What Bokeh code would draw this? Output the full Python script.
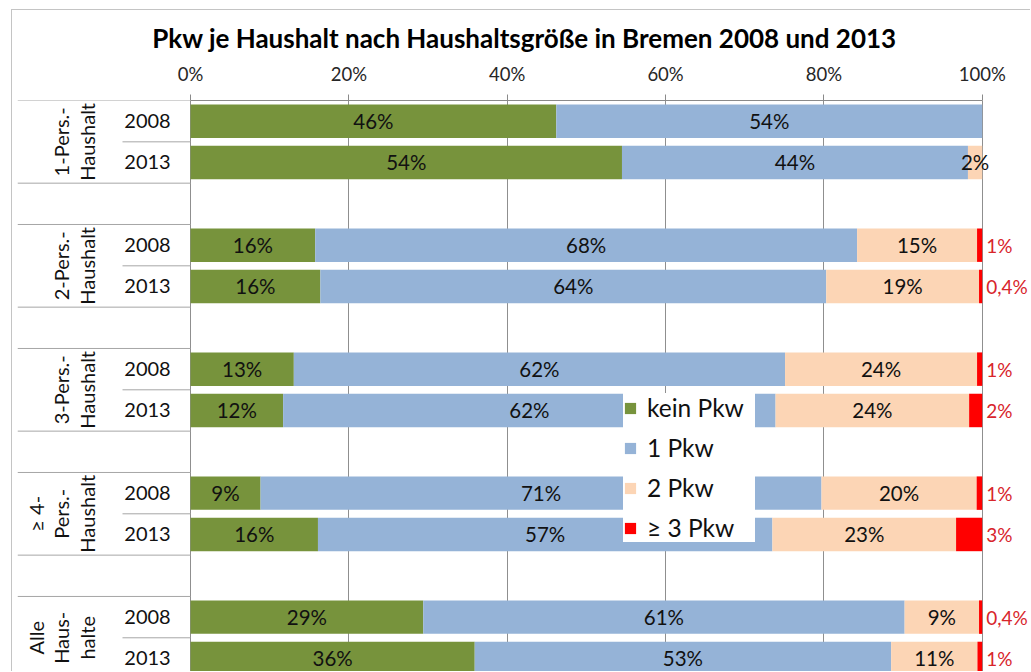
import math
from bokeh.plotting import figure
from bokeh.models import ColumnDataSource, Range1d, FixedTicker
from bokeh.core.properties import value
from bokeh.embed import file_html
from bokeh.resources import INLINE

# ---------------- data ----------------
TITLE = "Pkw je Haushalt nach Haushaltsgröße in Bremen 2008 und 2013"
GROUPS = [["1-Pers.-", "Haushalt"],
          ["2-Pers.-", "Haushalt"],
          ["3-Pers.-", "Haushalt"],
          ["≥ 4-", "Pers.-", "Haushalt"],
          ["Alle", "Haus-", "halte"]]
YEARS = ["2008", "2013"]
SERIES = ["kein Pkw", "1 Pkw", "2 Pkw", "≥ 3 Pkw"]

# one entry per bar: group 1 2008, group 1 2013, group 2 2008, ...
kein_pkw = [46.2, 54.5, 15.75, 16.4, 13.05, 11.7, 8.85, 16.1, 29.4, 35.9]
ein_pkw = [53.8, 43.7, 68.45, 63.9, 62.05, 62.2, 70.85, 57.4, 60.8, 52.6]
zwei_pkw = [0.0, 1.8, 15.15, 19.3, 24.25, 24.45, 19.6, 23.2, 9.4, 10.9]
drei_pkw = [0.0, 0.0, 0.65, 0.4, 0.65, 1.65, 0.7, 3.3, 0.4, 0.6]

kein_lbl = ["46%", "54%", "16%", "16%", "13%", "12%", "9%", "16%", "29%", "36%"]
ein_lbl = ["54%", "44%", "68%", "64%", "62%", "62%", "71%", "57%", "61%", "53%"]
zwei_lbl = ["", "2%", "15%", "19%", "24%", "24%", "20%", "23%", "9%", "11%"]
drei_lbl = ["", "", "1%", "0,4%", "1%", "2%", "1%", "3%", "0,4%", "1%"]

TICKS = [0, 20, 40, 60, 80, 100]
TICK_LABELS = ["0%", "20%", "40%", "60%", "80%", "100%"]

# ---------------- styles / layout ----------------
COLORS = ["#77933C", "#95B3D7", "#FCD5B5", "#FF0000"]
RED_TEXT = "#d8252b"
TXT = "#111111"
FONT = "Lato"

PX_PER_PCT = 7.917          # horizontal scale
SLOT_PX = 41.33             # height of one category slot
FIG_W, FIG_H = 1019, 662
MIN_LEFT, MIN_TOP = 5, 90
ZERO_PX = 178               # 0% position measured from canvas left
X_START = (MIN_LEFT - ZERO_PX) / PX_PER_PCT
X_END = (FIG_W - ZERO_PX) / PX_PER_PCT
Y_BOTTOM = (FIG_H - MIN_TOP) / SLOT_PX

def px_to_pct(px_from_zero):
    return px_from_zero / PX_PER_PCT

p = figure(width=FIG_W, height=FIG_H,
           x_range=Range1d(X_START, X_END), y_range=Range1d(Y_BOTTOM, 0),
           output_backend="svg", toolbar_location=None,
           x_axis_location="above", y_axis_location=None,
           min_border_left=MIN_LEFT, min_border_right=0,
           min_border_top=MIN_TOP, min_border_bottom=0,
           title=TITLE)
p.outline_line_color = None
p.background_fill_color = "white"
p.border_fill_color = "white"
p.styles = {"border-top": "1px solid #c4c4c4", "border-left": "1px solid #c4c4c4",
            "margin-left": "11px", "margin-top": "9px"}

p.title.align = "center"
p.title.text_font = FONT
p.title.text_font_style = "bold"
p.title.text_font_size = "26px"
p.title.text_color = "#000000"
p.title.standoff = 12

ax = p.xaxis[0]
ax.ticker = FixedTicker(ticks=TICKS)
ax.major_label_overrides = {t: l for t, l in zip(TICKS, TICK_LABELS)}
ax.bounds = (TICKS[0], TICKS[-1])
ax.axis_line_color = "#8a8a8a"
ax.major_tick_line_color = "#8a8a8a"
ax.major_tick_out = 6
ax.major_tick_in = 0
ax.minor_tick_line_color = None
ax.major_label_text_font = FONT
ax.major_label_text_font_size = "18.5px"
ax.major_label_text_color = "#262626"
ax.major_label_standoff = 10

p.xgrid.ticker = FixedTicker(ticks=TICKS)
p.xgrid.grid_line_color = "#8f8f8f"
p.ygrid.grid_line_color = None

# ---------------- bars ----------------
n = len(kein_pkw)
ys = [3 * (k // 2) + (k % 2) + 0.5 for k in range(n)]
src = ColumnDataSource(dict(y=ys, kein=kein_pkw, ein=ein_pkw, zwei=zwei_pkw, drei=drei_pkw))
p.hbar_stack(["kein", "ein", "zwei", "drei"], y="y", height=0.81, source=src,
             fill_color=COLORS, line_color=None, legend_label=SERIES)

# ---------------- data labels ----------------
lx, ly, lt = [], [], []
for k in range(n):
    segs = [kein_pkw[k], ein_pkw[k], zwei_pkw[k]]
    lbls = [kein_lbl[k], ein_lbl[k], zwei_lbl[k]]
    start = 0.0
    for v, l in zip(segs, lbls):
        if l:
            lx.append(start + v / 2)
            ly.append(ys[k])
            lt.append(l)
        start += v
p.text(x=lx, y=ly, text=lt, text_font=value(FONT), text_font_size="20.5px",
       text_align="center", text_baseline="middle", text_color=TXT)

rk = [k for k in range(n) if drei_lbl[k]]
p.text(x=[TICKS[-1] + px_to_pct(4)] * len(rk), y=[ys[k] for k in rk],
       text=[drei_lbl[k] for k in rk],
       text_font=value(FONT), text_font_size="19px",
       text_align="left", text_baseline="middle", text_color=RED_TEXT)

# ---------------- category labels ----------------
year_x = px_to_pct(-43)
p.text(x=[year_x] * n, y=ys, text=[YEARS[k % 2] for k in range(n)],
       text_font=value(FONT), text_font_size="20px",
       text_align="center", text_baseline="middle", text_color=TXT)

gx, gy, gt = [], [], []
for g, lines in enumerate(GROUPS):
    m = len(lines)
    for j, line in enumerate(lines):
        gx.append(px_to_pct(-104 - (m - 1 - j) * 25.5))
        gy.append(3 * g + 1)
        gt.append(line)
p.text(x=gx, y=gy, text=gt, angle=math.pi / 2,
       text_font=value(FONT), text_font_size="20px",
       text_align="center", text_baseline="middle", text_color=TXT)

# separator lines in category area
sx0, sy, sx1 = [], [], []
for g in range(len(GROUPS)):
    for yy in (3 * g, 3 * g + 2):
        sx0.append(X_START); sy.append(yy); sx1.append(0)
    sx0.append(px_to_pct(-68)); sy.append(3 * g + 1); sx1.append(0)
p.segment(x0=sx0, y0=sy, x1=sx1, y1=sy, line_color="#a6a6a6", line_width=1)

# ---------------- legend ----------------
lg = p.legend[0]
lg.location = (606, 130)
lg.glyph_width = 14
lg.glyph_height = 14
lg.label_text_font = FONT
lg.label_text_font_size = "24.5px"
lg.label_text_color = TXT
lg.label_standoff = 10
lg.label_height = 24
lg.label_width = 108
lg.spacing = 11
lg.padding = 6
lg.margin = 0
lg.border_line_color = None
lg.background_fill_color = "white"
lg.background_fill_alpha = 1.0

open("out.html", "w").write(file_html(p, INLINE))
